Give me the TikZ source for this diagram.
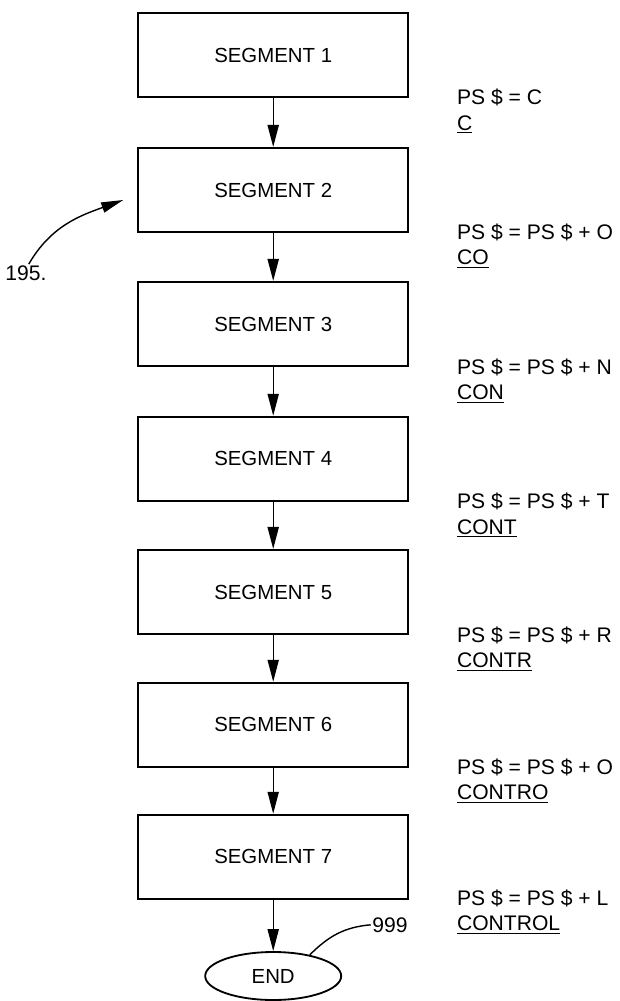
\documentclass[tikz,border=0pt]{standalone}
\usepackage{fontspec}
\setmainfont{Liberation Sans}
\usetikzlibrary{shapes.geometric, arrows.meta, positioning}

\begin{document}
\begin{tikzpicture}[
        seg/.style={rectangle, draw, line width=1.5pt, minimum width=6.75cm, minimum height=2.1cm,
                    font=\fontsize{14.5}{16}\selectfont},
        fim/.style={ellipse, draw, line width=1.3pt, minimum width=3.4cm, minimum height=1.2cm,
                    font=\fontsize{14.5}{16}\selectfont},
        passo/.style={-{Triangle[length=5.5mm, width=2.8mm]}, line width=1pt},
        ps/.style={anchor=west, align=left, font=\fontsize{15}{18}\selectfont, inner sep=0pt},
        ref/.style={font=\fontsize{15}{17}\selectfont, inner sep=1pt},
        guia/.style={line width=1pt}
    ]
    \useasboundingbox (0,0) rectangle (15.5,-25.025);
    % Coluna dos segmentos
    \node[seg] (s1) at (6.83,-1.38) {SEGMENT 1};
    \node[seg] (s2) at (6.83,-4.75) {SEGMENT 2};
    \node[seg] (s3) at (6.83,-8.1) {SEGMENT 3};
    \node[seg] (s4) at (6.83,-11.47) {SEGMENT 4};
    \node[seg] (s5) at (6.83,-14.8) {SEGMENT 5};
    \node[seg] (s6) at (6.83,-18.12) {SEGMENT 6};
    \node[seg] (s7) at (6.83,-21.42) {SEGMENT 7};
    \node[fim] (fim) at (6.83,-24.4) {END};
    % Coluna das atribuicoes
    \node[ps] (ps1) at (11.42,-2.78) {PS \$ = C\\ \underline{C}};
    \node[ps] (ps2) at (11.42,-6.15) {PS \$ = PS \$ + O\\ \underline{CO}};
    \node[ps] (ps3) at (11.42,-9.52) {PS \$ = PS \$ + N\\ \underline{CON}};
    \node[ps] (ps4) at (11.42,-12.88) {PS \$ = PS \$ + T\\ \underline{CONT}};
    \node[ps] (ps5) at (11.42,-16.22) {PS \$ = PS \$ + R\\ \underline{CONTR}};
    \node[ps] (ps6) at (11.42,-19.52) {PS \$ = PS \$ + O\\ \underline{CONTRO}};
    \node[ps] (ps7) at (11.42,-22.8) {PS \$ = PS \$ + L\\ \underline{CONTROL}};
    % Referencias
    \node[ref] (r195) at (0.65,-6.83) {195.};
    \coordinate (alvo) at (3.08,-5.0);
    \node[ref] (r999) at (9.75,-23.12) {999};

    \draw[passo] (s1.south) -- (s2.north);
    \draw[passo] (s2.south) -- (s3.north);
    \draw[passo] (s3.south) -- (s4.north);
    \draw[passo] (s4.south) -- (s5.north);
    \draw[passo] (s5.south) -- (s6.north);
    \draw[passo] (s6.south) -- (s7.north);
    \draw[passo] (s7.south) -- (fim.north);
    \draw[-{Triangle[length=5.5mm, width=2.6mm]}, guia] ([xshift=2pt]r195.north) to[out=60, in=200] (alvo);
    \draw[guia] (fim.30) to[out=45, in=185] (r999.west);
\end{tikzpicture}
\end{document}
